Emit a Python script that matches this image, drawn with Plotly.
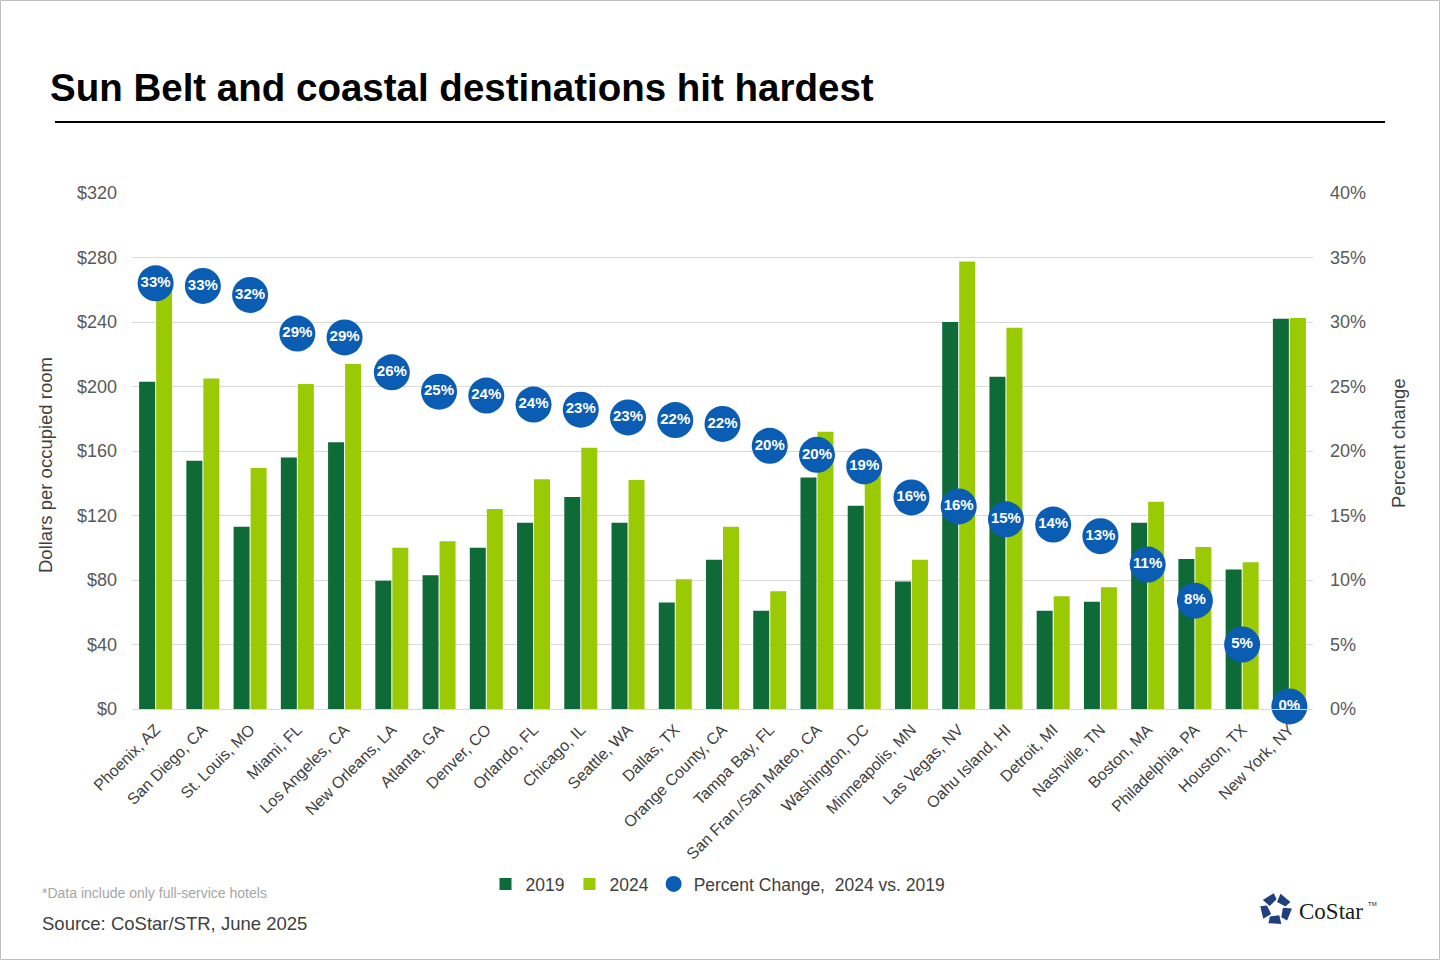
import numpy as np
import plotly.graph_objects as go

markets = ["Phoenix, AZ", "San Diego, CA", "St. Louis, MO", "Miami, FL", "Los Angeles, CA",
           "New Orleans, LA", "Atlanta, GA", "Denver, CO", "Orlando, FL", "Chicago, IL",
           "Seattle, WA", "Dallas, TX", "Orange County, CA", "Tampa Bay, FL",
           "San Fran./San Mateo, CA", "Washington, DC", "Minneapolis, MN", "Las Vegas, NV",
           "Oahu Island, HI", "Detroit, MI", "Nashville, TN", "Boston, MA",
           "Philadelphia, PA", "Houston, TX", "New York, NY"]

adr_2019 = [203, 154, 113, 156, 165.5, 79.5, 83, 100, 115.5, 131.5,
            115.5, 66, 92.5, 61, 143.5, 126, 79, 240,
            206, 61, 66.5, 115.5, 93, 86.5, 242]
adr_2024 = [270, 205, 149.5, 201.5, 214, 100, 104, 124, 142.5, 162,
            142, 80.5, 113, 73, 172, 148, 92.5, 277.5,
            236.5, 70, 75.5, 128.5, 100.5, 91, 242.5]
pct_change = [33.0, 32.8, 32.1, 29.1, 28.8, 26.1, 24.6, 24.3, 23.6, 23.2,
              22.6, 22.4, 22.1, 20.4, 19.7, 18.8, 16.4, 15.7,
              14.7, 14.3, 13.4, 11.2, 8.4, 5.0, 0.2]

left_ticks = [0, 40, 80, 120, 160, 200, 240, 280, 320]
left_tick_labels = ["$0", "$40", "$80", "$120", "$160", "$200", "$240", "$280", "$320"]
right_ticks = [0, 5, 10, 15, 20, 25, 30, 35, 40]
right_tick_labels = ["0%", "5%", "10%", "15%", "20%", "25%", "30%", "35%", "40%"]

DARK = "#0E6B38"
LIGHT = "#99CA04"
BLUE = "#0B5DB3"
FONT = "Arial, Liberation Sans, sans-serif"

W, H = 1440, 960
L, R, T, B = 132, 1313, 193, 709


def px(x):
    return (x - L) / (R - L)


def py(y):
    return (B - y) / (B - T)


fig = go.Figure()
fig.add_trace(go.Bar(x=markets, y=adr_2019, name="2019", marker_color=DARK,
                     marker_line_width=0))
fig.add_trace(go.Bar(x=markets, y=adr_2024, name="2024", marker_color=LIGHT,
                     marker_line_width=0))
fig.add_trace(go.Scatter(x=markets, y=pct_change, yaxis="y2", mode="markers+text",
                         name="Percent Change,\u00a0 2024 vs. 2019",
                         marker=dict(size=36, color=BLUE, line=dict(width=0)),
                         texttemplate="<b>%{y:.0f}%</b>", textposition="middle center",
                         textfont=dict(color="white", size=15, family=FONT),
                         cliponaxis=False))

fig.update_layout(
    width=W, height=H,
    margin=dict(l=L, r=W - R, t=T, b=H - B, pad=0),
    paper_bgcolor="white", plot_bgcolor="white",
    font=dict(family=FONT, color="#595959", size=17),
    barmode="group", bargap=0.28, bargroupgap=0.06,
    title=dict(text="<b>Sun Belt and coastal destinations hit hardest</b>",
               x=50 / W, xref="container", xanchor="left",
               y=1 - 88 / H, yref="container", yanchor="middle",
               font=dict(size=38.5, color="black", family=FONT)),
    xaxis=dict(tickangle=-45, tickfont=dict(size=16, color="#404040"),
               range=[-0.5, len(markets) - 0.5], autorange=False,
               showgrid=False, showline=True, linecolor="#d9d9d9", linewidth=1,
               ticks="", ticklabelstandoff=4),
    yaxis=dict(range=[0, 320], tickvals=left_ticks, ticktext=left_tick_labels,
               showgrid=True, gridcolor="#d9d9d9", gridwidth=1, zeroline=False,
               ticks="", ticklabelstandoff=14, tickfont=dict(size=18, color="#595959")),
    yaxis2=dict(range=[0, 40], tickvals=right_ticks, ticktext=right_tick_labels,
                overlaying="y", side="right", showgrid=False, zeroline=False,
                ticks="", ticklabelstandoff=16, tickfont=dict(size=18, color="#595959")),
    legend=dict(orientation="h", x=px(718), xanchor="center", y=py(884), yanchor="middle",
                font=dict(size=17.5, color="#404040"), itemwidth=30,
                traceorder="normal", bgcolor="rgba(0,0,0,0)"),
    showlegend=True,
)

annotations = [
    dict(text="Dollars per occupied room", x=px(45), y=py(465), xref="paper", yref="paper",
         textangle=-90, showarrow=False, font=dict(size=18.5, color="#404040"),
         xanchor="center", yanchor="middle"),
    dict(text="Percent change", x=px(1398), y=py(443), xref="paper", yref="paper",
         textangle=-90, showarrow=False, font=dict(size=18.5, color="#404040"),
         xanchor="center", yanchor="middle"),
    dict(text="*Data include only full-service hotels", x=px(40), y=py(893), xref="paper",
         yref="paper", showarrow=False, font=dict(size=14, color="#a6a6a6"),
         xanchor="left", yanchor="middle"),
    dict(text="Source: CoStar/STR, June 2025", x=px(40), y=py(923), xref="paper",
         yref="paper", showarrow=False, font=dict(size=18.5, color="#404040"),
         xanchor="left", yanchor="middle"),
    dict(text="CoStar", x=px(1297), y=py(911), xref="paper", yref="paper",
         showarrow=False, font=dict(size=23, color="#1a1a1a",
                                    family="Liberation Serif, DejaVu Serif, serif"),
         xanchor="left", yanchor="middle"),
    dict(text="TM", x=px(1366), y=py(904), xref="paper", yref="paper",
         showarrow=False, font=dict(size=6, color="#1a1a1a"),
         xanchor="left", yanchor="middle"),
]
fig.update_layout(annotations=annotations)

shapes = [
    dict(type="line", xref="paper", yref="paper", x0=px(55), x1=px(1385),
         y0=py(122), y1=py(122), line=dict(color="black", width=2)),
    dict(type="rect", xref="paper", yref="paper", x0=px(0.5), x1=px(1439.5),
         y0=py(959.5), y1=py(0.5), line=dict(color="#bfbfbf", width=1)),
]

# CoStar logo icon: five navy segments arranged in a ring
cx, cy, r_out, r_in = 1276, 909, 16, 7
for k in range(5):
    a0 = np.deg2rad(-90 + k * 72 + 8)
    a1 = np.deg2rad(-90 + k * 72 + 64)
    pts = [(cx + r_in * np.cos(a0), cy + r_in * np.sin(a0)),
           (cx + r_out * np.cos(a0 + 0.15), cy + r_out * np.sin(a0 + 0.15)),
           (cx + r_out * np.cos(a1), cy + r_out * np.sin(a1)),
           (cx + r_in * 1.4 * np.cos(a1 + 0.2), cy + r_in * 1.4 * np.sin(a1 + 0.2))]
    path = "M " + " L ".join(f"{px(x):.5f},{py(y):.5f}" for x, y in pts) + " Z"
    shapes.append(dict(type="path", xref="paper", yref="paper", path=path,
                       fillcolor="#1F3F7F", line=dict(width=0)))
fig.update_layout(shapes=shapes)

fig.write_html("out.html", config={"displayModeBar": False},
               post_script="document.body.style.margin='0';")
